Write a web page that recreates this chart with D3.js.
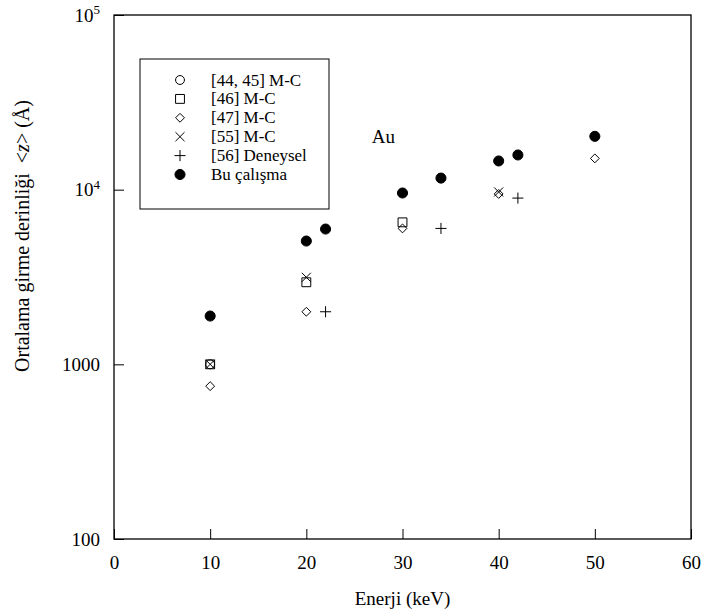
<!DOCTYPE html>
<html>
<head>
<meta charset="utf-8">
<script src="https://cdn.jsdelivr.net/npm/d3@7"></script>
<style>
  body { margin: 0; background: #fff; }
  text { font-family: "Liberation Serif", "Times New Roman", serif; fill: #000; }
</style>
</head>
<body>
<div id="chart"></div>
<script>
// series values (x = keV, y = Angstrom)
let refCircleX = [10];
let refCircleY = [1000];
let refSquareX = [10, 20, 30];
let refSquareY = [1000, 2950, 6500];
let refDiamondX = [10, 20, 30, 40, 50];
let refDiamondY = [750, 2000, 6000, 9450, 15100];
let refTimesX = [10, 20, 40];
let refTimesY = [1000, 3150, 9700];
let expPlusX = [22, 34, 42];
let expPlusY = [2000, 6000, 8950];
let thisWorkX = [10, 20, 22, 30, 34, 40, 42, 50];
let thisWorkY = [1890, 5080, 5950, 9570, 11650, 14600, 15800, 20200];

let legendLabels = ['[44, 45] M-C', '[46] M-C', '[47] M-C', '[55] M-C', '[56] Deneysel', 'Bu çalışma'];
let xTicks = [0, 10, 20, 30, 40, 50, 60];
let yTicks = [100, 1000, 10000, 100000];

let width = 702, height = 614;
let margin = { left: 114, right: 11, top: 15, bottom: 75 };

let svg = d3.select('#chart').append('svg')
            .attr('width', width)
            .attr('height', height);

let xScale = d3.scaleLinear().domain([0, 60]).range([margin.left, width - margin.right]);
let yScale = d3.scaleLog().domain([100, 100000]).range([height - margin.bottom, margin.top]);

// symbol shapes
let shapes = [
  { type: d3.symbolCircle, size: 62, fill: 'none' },
  { type: d3.symbolSquare2, size: 100, fill: 'none' },
  { type: d3.symbolDiamond2, size: 50, fill: 'none' },
  { type: d3.symbolTimes, size: 55, fill: 'none' },
  { type: d3.symbolPlus, size: 42, fill: 'none' },
  { type: d3.symbolCircle, size: 80, fill: '#000' }
];
let series = [
  [refCircleX, refCircleY],
  [refSquareX, refSquareY],
  [refDiamondX, refDiamondY],
  [refTimesX, refTimesY],
  [expPlusX, expPlusY],
  [thisWorkX, thisWorkY]
];

// frame
svg.append('rect')
   .attr('x', xScale(0)).attr('y', yScale(100000))
   .attr('width', xScale(60) - xScale(0))
   .attr('height', yScale(100) - yScale(100000))
   .style('fill', 'none').style('stroke', '#000').style('stroke-width', 1.3);

// x axis, ticks inward
let xAxis = svg.append('g')
   .attr('transform', `translate(0, ${yScale(100)})`)
   .call(d3.axisBottom(xScale).tickValues(xTicks).tickSizeInner(-10).tickSizeOuter(0).tickPadding(17));
xAxis.select('.domain').remove();
xAxis.selectAll('line').style('stroke', '#000');
xAxis.selectAll('text').style('font-size', '19px').style('font-family', '"Liberation Serif", serif');

// y axis, ticks inward
let yAxis = svg.append('g')
   .attr('transform', `translate(${xScale(0)}, 0)`)
   .call(d3.axisLeft(yScale).tickValues(yTicks).tickSizeInner(-10).tickSizeOuter(0).tickPadding(14).tickFormat(() => ''));
yAxis.select('.domain').remove();
yAxis.selectAll('line').style('stroke', '#000');
yAxis.selectAll('text')
     .style('font-size', '19px').style('font-family', '"Liberation Serif", serif')
     .each(function(v) {
       let t = d3.select(this);
       if (v < 10000) {
         t.text(v);
       } else {
         t.append('tspan').text('10');
         t.append('tspan').attr('dy', '-0.55em').style('font-size', '13px').text(Math.round(Math.log10(v)));
       }
     });

// axis titles
svg.append('text')
   .attr('x', (xScale(0) + xScale(60)) / 2)
   .attr('y', 605)
   .attr('text-anchor', 'middle')
   .style('font-size', '19px')
   .text('Enerji (keV)');

let yTitle = svg.append('text')
   .attr('transform', `translate(29, 236) rotate(-90)`)
   .attr('text-anchor', 'middle')
   .style('font-size', '20px');
yTitle.append('tspan').text('Ortalama girme derinliği');
yTitle.append('tspan').attr('dx', 10).text('<');
yTitle.append('tspan').style('font-style', 'italic').text('z');
yTitle.append('tspan').text('> (Å)');

// data points
series.forEach((s, k) => {
  let pts = s[0].map((x, i) => [x, s[1][i]]);
  svg.append('g').selectAll('path')
     .data(pts)
     .enter()
     .append('path')
     .attr('transform', d => `translate(${xScale(d[0])}, ${yScale(d[1])})`)
     .attr('d', d3.symbol().type(shapes[k].type).size(shapes[k].size))
     .style('fill', shapes[k].fill)
     .style('stroke', '#000')
     .style('stroke-width', 1);
});

// Au label
svg.append('text')
   .attr('x', xScale(26.8))
   .attr('y', yScale(Math.pow(10, 4.265)))
   .style('font-size', '19px')
   .text('Au');

// legend
let legend = svg.append('g');
legend.append('rect')
      .attr('x', 140).attr('y', 59)
      .attr('width', 189).attr('height', 150)
      .style('fill', '#fff').style('stroke', '#000').style('stroke-width', 1);
legendLabels.forEach((lab, k) => {
  let cy = 80 + k * 18.9;
  legend.append('path')
        .attr('transform', `translate(180, ${cy})`)
        .attr('d', d3.symbol().type(shapes[k].type).size(shapes[k].size))
        .style('fill', shapes[k].fill)
        .style('stroke', '#000')
        .style('stroke-width', 1);
  legend.append('text')
        .attr('x', 211)
        .attr('y', cy + 5.5)
        .style('font-size', '17px')
        .text(lab);
});
</script>
</body>
</html>
